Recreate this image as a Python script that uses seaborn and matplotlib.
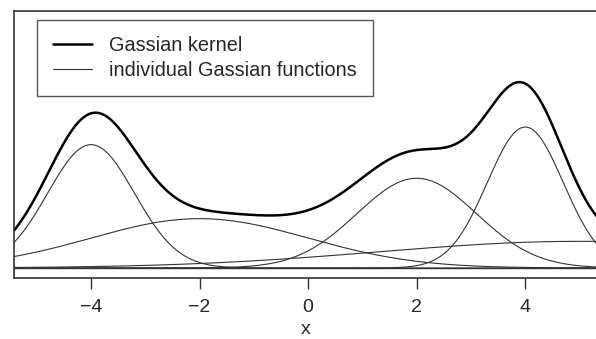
import numpy as np
import pandas as pd
import matplotlib
matplotlib.use("Agg")
import matplotlib.pyplot as plt
import seaborn as sns

# centres, bandwidths and weights of the individual Gaussian functions
centers = [-4.0, -2.0, 2.0, 4.0, 5.0]
bandwidths = [0.8, 2.0, 1.1, 0.7, 3.7]
weights = [0.2, 0.2, 0.2, 0.2, 0.2]
xticks = [-4, -2, 0, 2, 4]

x = np.linspace(-5.6, 5.6, 600)
rows = []
for i, (c, h, w) in enumerate(zip(centers, bandwidths, weights)):
    y = w * np.exp(-0.5 * ((x - c) / h) ** 2) / (h * np.sqrt(2 * np.pi))
    rows.append(pd.DataFrame({"x": x, "y": y, "comp": i}))
df_comp = pd.concat(rows, ignore_index=True)
df_kern = df_comp.groupby("x", as_index=False)["y"].sum()

sns.set_style("white")
plt.rcParams["font.family"] = ["Liberation Sans", "DejaVu Sans"]

fig = plt.figure(figsize=(5.96, 3.39), dpi=100)
ax = fig.add_axes([14 / 596, 61 / 339, 584 / 596, 267 / 339])

sns.lineplot(data=df_kern, x="x", y="y", color="black", linewidth=1.8,
             ax=ax, label="Gassian kernel")
for i, sub in df_comp.groupby("comp"):
    sns.lineplot(data=sub, x="x", y="y", color="#333333", linewidth=0.8, ax=ax,
                 label="individual Gassian functions" if i == 0 else None)
ax.axhline(0, color="#333333", linewidth=1.0)

ax.set_xlim(-5.42, 5.34)
ax.set_ylim(-0.0081, 0.2078)
ax.set_xticks(xticks)
ax.set_yticks([])
ax.set_xlabel("x", fontsize=14, labelpad=4)
ax.set_ylabel("")
ax.tick_params(axis="x", direction="out", length=8, width=1, color="#333333",
               labelsize=14, pad=7, bottom=True)
for s in ax.spines.values():
    s.set_color("#333333")
    s.set_linewidth(1.2)
ax.spines["right"].set_visible(False)

leg = ax.legend(loc="upper left", bbox_to_anchor=(37 / 596, 1 - 20 / 339),
                bbox_transform=fig.transFigure, borderaxespad=0, fontsize=14.3,
                fancybox=False, edgecolor="#555555", framealpha=1,
                handlelength=1.95, handletextpad=0.9, borderpad=0.8,
                labelspacing=0.3)
leg.get_frame().set_linewidth(1.0)

plt.savefig("out.png", dpi=100)
